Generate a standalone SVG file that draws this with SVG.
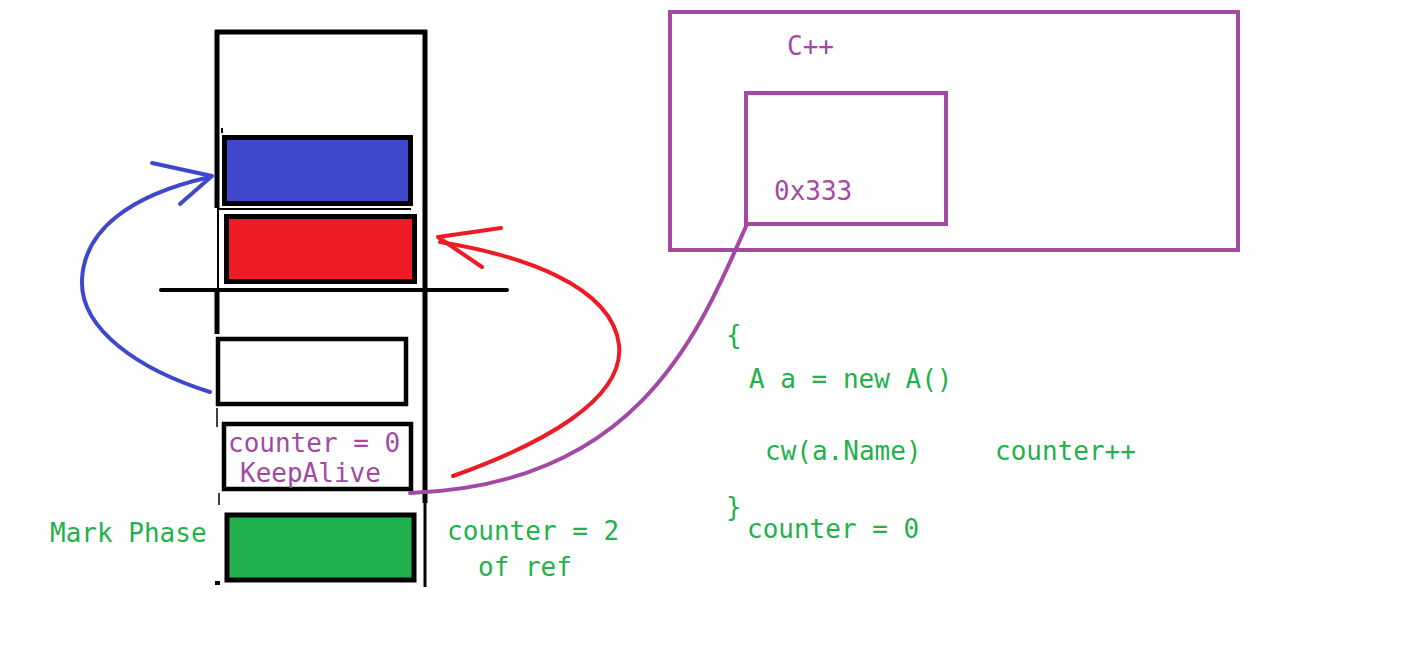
<svg xmlns="http://www.w3.org/2000/svg" width="1412" height="649" viewBox="0 0 1412 649">
<style>
.t{font-family:"DejaVu Sans Mono","Liberation Mono",monospace;font-size:26px}
.g{fill:#22B14C}
.p{fill:#A349A4}
.k{stroke:#000;fill:none}
</style>
<rect width="1412" height="649" fill="#fff"/>
<g id="stack">
<line class="k" x1="215" y1="32" x2="427" y2="32" stroke-width="5"/>
<line class="k" x1="217" y1="30" x2="217" y2="208" stroke-width="5"/>
<line class="k" x1="218" y1="208" x2="218" y2="292" stroke-width="2"/>
<line class="k" x1="217" y1="288" x2="217" y2="334" stroke-width="5"/>
<line class="k" x1="217" y1="408" x2="217" y2="427" stroke-width="1.5"/>
<line class="k" x1="219" y1="493" x2="219" y2="505" stroke-width="1.5"/>
<rect x="215" y="581" width="5" height="4" fill="#000"/>
<rect x="221" y="128" width="2" height="5" fill="#000"/>
<line class="k" x1="425" y1="30" x2="425" y2="503" stroke-width="5"/>
<line class="k" x1="425" y1="503" x2="425" y2="587" stroke-width="3"/>
<line class="k" x1="218" y1="209" x2="411" y2="209" stroke-width="2"/>
<line class="k" x1="161" y1="290" x2="507" y2="290" stroke-width="4" stroke-linecap="round"/>
</g>
<g id="blue-obj"><rect x="224.5" y="137.5" width="186" height="66" fill="#3F48CC" stroke="#000" stroke-width="5"/></g>
<g id="red-obj"><rect x="226.5" y="216.5" width="188" height="65" fill="#ED1C24" stroke="#000" stroke-width="5"/></g>
<g id="white-obj"><rect x="218" y="339" width="188" height="65" fill="#fff" stroke="#000" stroke-width="4.5"/></g>
<g id="counter-obj">
<rect x="224" y="424" width="187" height="65" fill="#fff" stroke="#000" stroke-width="4.5"/>
<text class="t p" x="228" y="452">counter = 0</text>
<text class="t p" x="240" y="482">KeepAlive</text>
</g>
<g id="green-obj"><rect x="227" y="515" width="187" height="65" fill="#22B14C" stroke="#000" stroke-width="5"/></g>
<g id="labels">
<text class="t g" x="50" y="542">Mark Phase</text>
<text class="t g" x="447" y="540">counter = 2</text>
<text class="t g" x="478" y="576">of ref</text>
</g>
<g id="cpp">
<rect x="670" y="12" width="568" height="238" fill="none" stroke="#A349A4" stroke-width="4"/>
<text class="t p" x="787" y="55">C++</text>
<rect x="746" y="93" width="200" height="131" fill="none" stroke="#A349A4" stroke-width="4"/>
<text class="t p" x="774" y="200">0x333</text>
</g>
<g id="code">
<text class="t g" x="726" y="344">{</text>
<text class="t g" x="749" y="388">A a = new A()</text>
<text class="t g" x="765" y="460">cw(a.Name)</text>
<text class="t g" x="995" y="460">counter++</text>
<text class="t g" x="726" y="516">}</text>
<text class="t g" x="747" y="538">counter = 0</text>
</g>
<g id="connectors" fill="none" stroke-width="4" stroke-linecap="round" stroke-linejoin="round">
<path d="M210,392 C140,370 80,330 82,280 C84,230 130,195 210,177" stroke="#3F48CC"/>
<path d="M152,163 L212,176 L180,204" stroke="#3F48CC"/>
<path d="M453,476 C540,445 625,400 619,345 C612,285 520,255 440,242" stroke="#ED1C24"/>
<path d="M501,228 L438,237 L482,267" stroke="#ED1C24"/>
<path d="M747,224 C700,330 640,485 410,493" stroke="#A349A4"/>
</g>
</svg>
